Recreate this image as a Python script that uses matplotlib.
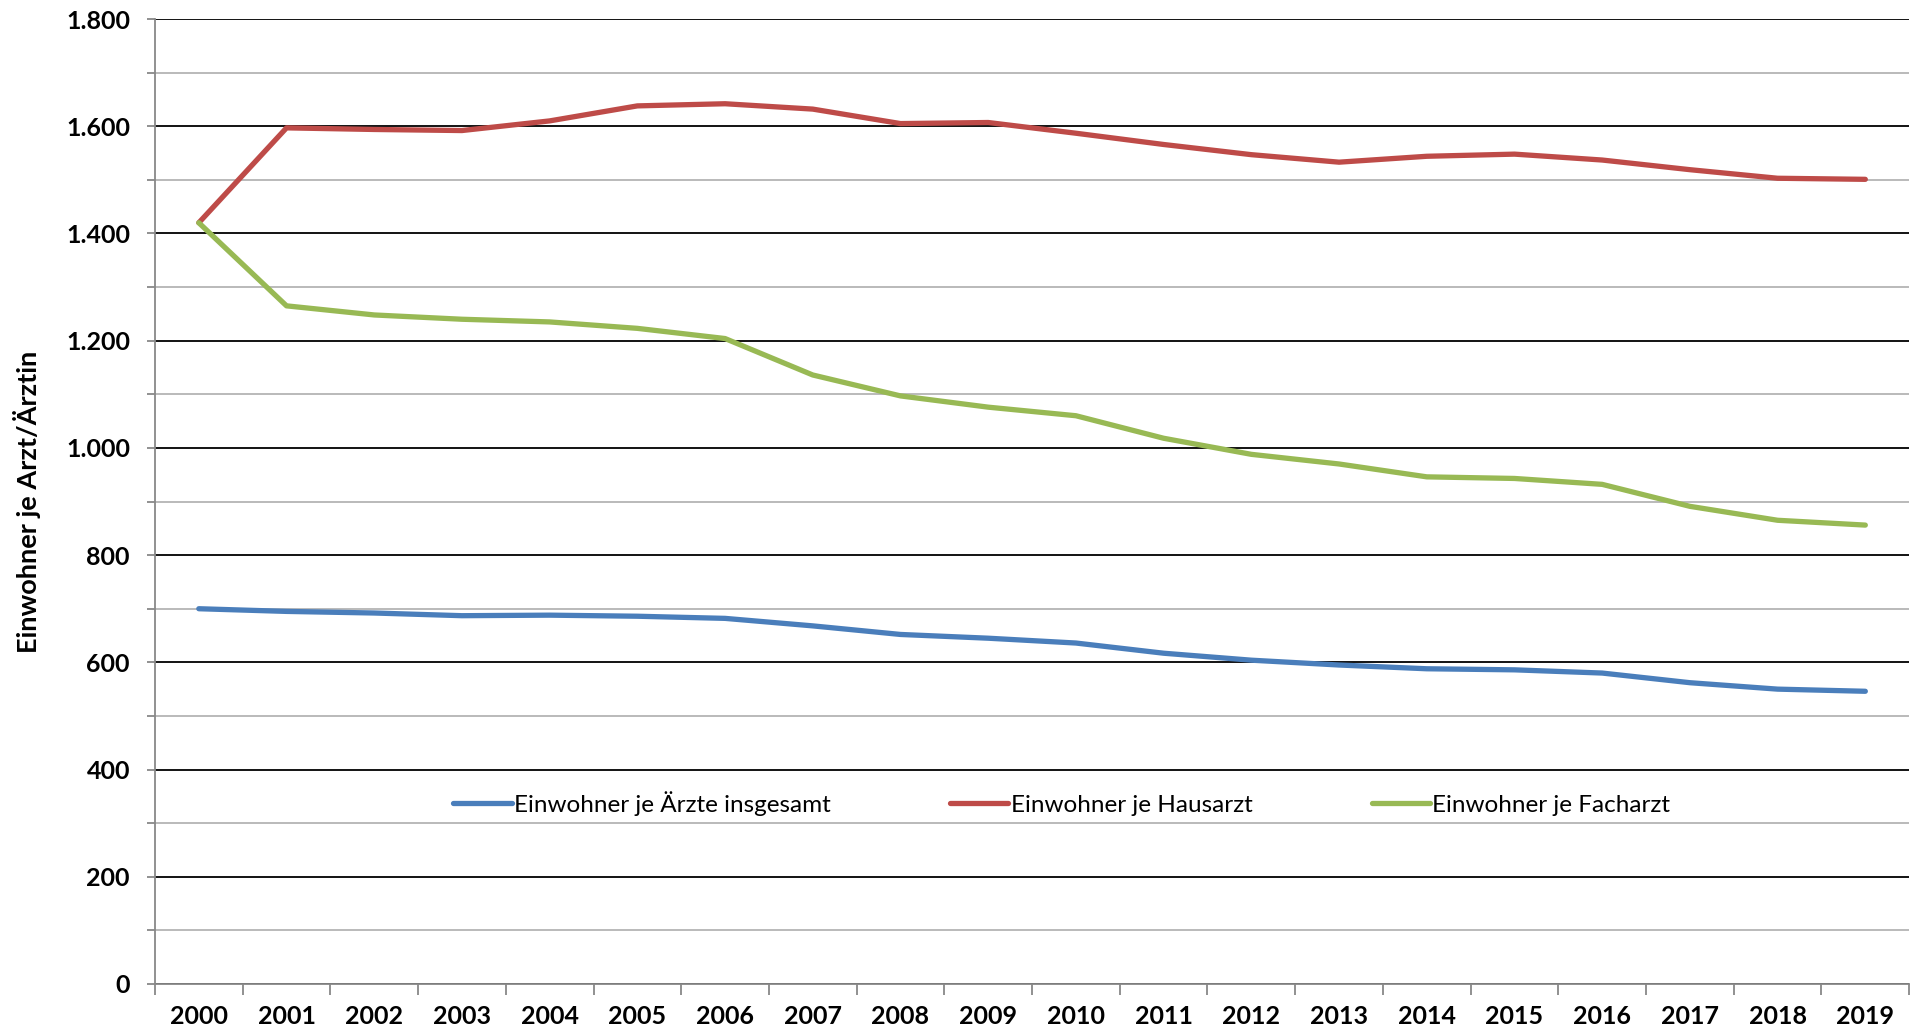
import numpy as np
import matplotlib
matplotlib.use('Agg')
import matplotlib.pyplot as plt
from matplotlib.ticker import FixedLocator, FuncFormatter, MultipleLocator

plt.rcParams['font.family'] = ['Lato', 'DejaVu Sans']

years = ['2000', '2001', '2002', '2003', '2004', '2005', '2006', '2007', '2008', '2009',
         '2010', '2011', '2012', '2013', '2014', '2015', '2016', '2017', '2018', '2019']

# Einwohner je Arzt/Ärztin
aerzte_gesamt = [700, 695, 692, 687, 688, 686, 682, 668, 652, 645,
                 636, 617, 604, 595, 588, 586, 580, 562, 550, 546]
hausarzt = [1420, 1597, 1594, 1592, 1610, 1638, 1642, 1632, 1605, 1607,
            1587, 1566, 1547, 1533, 1544, 1548, 1537, 1519, 1503, 1501]
facharzt = [1420, 1265, 1248, 1240, 1235, 1223, 1204, 1136, 1097, 1076,
            1060, 1018, 988, 970, 946, 943, 932, 891, 865, 856]

labels = ['Einwohner je Ärzte insgesamt', 'Einwohner je Hausarzt', 'Einwohner je Facharzt']
colors = ['#4A7EBB', '#BE4B48', '#98B954']

fig = plt.figure(figsize=(19.13, 10.35), dpi=100)
ax = fig.add_axes([0.081, 0.0493, 0.917, 0.9323])

x = np.arange(len(years))
for series, lab, col in zip([aerzte_gesamt, hausarzt, facharzt], labels, colors):
    ax.plot(x, series, color=col, lw=3.8, label=lab, solid_capstyle='round', zorder=3)

ax.set_xlim(-0.5, len(years) - 0.5)
ax.set_ylim(0, 1800)

# y axis: major every 200 (black grid), minor every 100 (grey grid)
ax.yaxis.set_major_locator(MultipleLocator(200))
ax.yaxis.set_minor_locator(MultipleLocator(100))
ax.yaxis.set_major_formatter(FuncFormatter(lambda v, p: f'{int(v):,}'.replace(',', '.')))
ax.grid(which='minor', axis='y', color='#b4b4b4', lw=1.3, zorder=1)
ax.grid(which='major', axis='y', color='black', lw=1.3, zorder=2)
ax.tick_params(axis='y', which='both', length=6, width=1.3, color='#888888',
               labelsize=18, pad=12)

# x axis: labels centred on categories, tick marks between them
ax.set_xticks(x)
ax.set_xticklabels(years)
ax.xaxis.set_minor_locator(FixedLocator(np.arange(-0.5, len(years), 1)))
ax.tick_params(axis='x', which='major', length=0, labelsize=18, pad=15)
ax.tick_params(axis='x', which='minor', length=8, width=1.3, color='#888888')

for lbl in ax.get_xticklabels() + ax.get_yticklabels():
    lbl.set_fontweight('bold')

for side in ['top', 'right']:
    ax.spines[side].set_visible(False)
for side in ['left', 'bottom']:
    ax.spines[side].set_color('#888888')
    ax.spines[side].set_linewidth(1.3)

ax.set_ylabel('Einwohner je Arzt/Ärztin', fontsize=19.5, fontweight='bold', labelpad=18)

ax.legend(loc='center', bbox_to_anchor=(0.517, 0.187), ncol=3, frameon=False,
          fontsize=17.5, handlelength=2.4, handletextpad=0.1, columnspacing=4.9)

fig.savefig('out.png', dpi=100)
